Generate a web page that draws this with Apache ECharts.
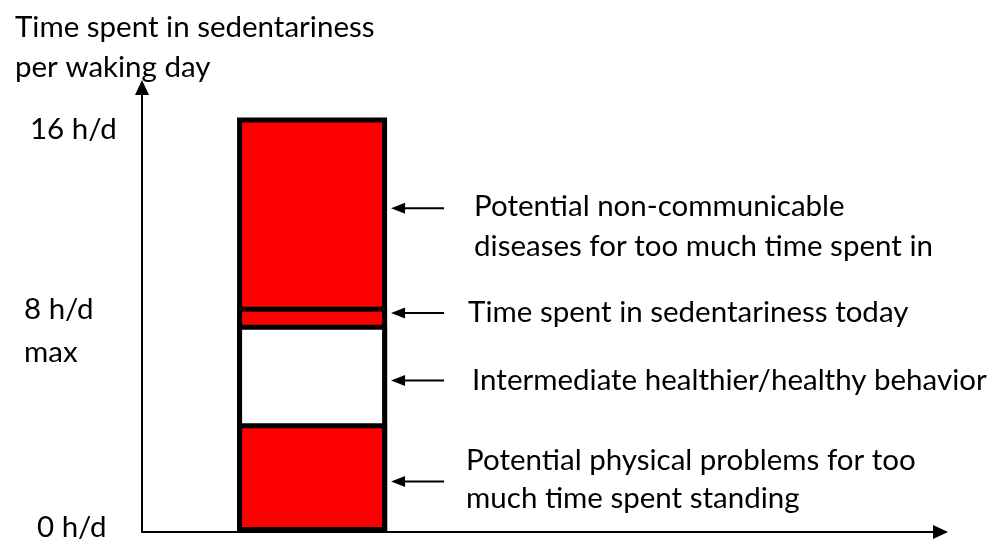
<!DOCTYPE html>
<html><head><meta charset="utf-8">
<script src="https://cdn.jsdelivr.net/npm/echarts@6/dist/echarts.min.js"></script>
<style>html,body{margin:0;padding:0;background:#fff}#c{width:995px;height:539px}</style>
</head><body><div id="c"></div>
<script>
// ---- data ----
const yTitleLines = ['Time spent in sedentariness', 'per waking day'];
const yTickValues = [0, 8, 16];
const yTickLabels = ['0 h/d', '8 h/d\nmax', '16 h/d'];
const barPosition = 21.3;               // where the single bar sits on the x range 0..100
const segmentNames = ['Standing', 'Healthy', 'Today', 'Sedentary'];
const segmentValues = [4.2, 3.8, 0.7, 7.3];   // hours, bottom to top
const annotationValues = [12.5, 8.45, 5.85, 1.95]; // hours where arrows point
const annotationTexts = [
  'Potential non-communicable\ndiseases for too much time spent in',
  'Time spent in sedentariness today',
  'Intermediate healthier/healthy behavior',
  'Potential physical problems for too\nmuch time spent standing'
];

// ---- styles / layout ----
const FONT = 'Lato, "Open Sans", sans-serif';
const FS = 29.5;
const segmentColors = ['#ff0000', '#ffffff', '#ff0000', '#ff0000'];
const annLayout = [
  {dx: 83, lh: 40, top: -22},
  {dx: 77, lh: 40, top: -21},
  {dx: 81, lh: 40, top: -20},
  {dx: 75, lh: 38, top: -40}
];

const chart = echarts.init(document.getElementById('c'), null, {renderer: 'canvas'});

// segment tops (running totals), drawn tallest first so lower segments overlay them
const tops = [];
segmentValues.reduce((acc, v, i) => { tops[i] = acc + v; return tops[i]; }, 0);
const order = segmentNames.map((_, i) => i).reverse();
const BAR_W = 150;
const barSeries = order.map((i, k) => ({
  name: segmentNames[i],
  type: 'bar',
  barWidth: BAR_W,
  barGap: '-100%',
  data: [[barPosition, tops[i]]],
  itemStyle: {color: segmentColors[i], borderColor: '#000', borderWidth: 5},
  silent: true,
  z: 3 + k * 0.01
}));

const annData = annotationValues.map((v, i) => [barPosition, v, i]);

const option = {
  backgroundColor: '#fff',
  animation: false,
  title: {
    text: yTitleLines.join('\n'),
    left: 15, top: 7, padding: 0,
    textStyle: {fontFamily: FONT, fontSize: FS, fontWeight: 'normal', color: '#000', lineHeight: 40}
  },
  grid: {left: 142, right: 54.5, top: 87.5, bottom: 7, containLabel: false, outerBoundsMode: 'none'},
  xAxis: {
    type: 'value', min: 0, max: 100,
    axisLine: {show: true, onZero: false, lineStyle: {color: '#000', width: 2},
      symbol: ['none', 'triangle'], symbolSize: [14, 15]},
    axisTick: {show: false}, axisLabel: {show: false}, splitLine: {show: false}
  },
  yAxis: {
    type: 'value', min: 0, max: 17.16,
    axisLine: {show: true, onZero: false, lineStyle: {color: '#000', width: 2},
      symbol: ['none', 'triangle'], symbolSize: [14, 15]},
    axisTick: {show: false}, splitLine: {show: false},
    axisLabel: {
      show: true,
      customValues: yTickValues,
      align: 'left', margin: 118,
      color: '#000', fontFamily: FONT, fontSize: FS,
      formatter: function (v) {
        const i = yTickValues.indexOf(v);
        if (i < 0) return '';
        const parts = yTickLabels[i].split('\n');
        if (v === 16) return '{sp16| }\n{a|' + parts[0] + '}';
        if (v === 8) return '{sp8| }\n{b|' + parts[0] + '}\n{b|' + parts[1] + '}';
        return '{c|' + parts[0] + '}\n{sp0| }';
      },
      rich: {
        a: {fontFamily: FONT, fontSize: FS, color: '#000', lineHeight: 30, padding: [0, 0, 0, 6]},
        b: {fontFamily: FONT, fontSize: FS, color: '#000', lineHeight: 43},
        c: {fontFamily: FONT, fontSize: FS, color: '#000', lineHeight: 30, padding: [0, 0, 0, 13]},
        sp16: {fontSize: 4, lineHeight: 23},
        sp8: {fontSize: 4, lineHeight: 12},
        sp0: {fontSize: 4, lineHeight: 10}
      }
    }
  },
  series: barSeries.concat([{
    type: 'custom',
    name: 'annotations',
    silent: true,
    z: 5,
    data: annData,
    encode: {x: 0, y: 1},
    renderItem: function (params, api) {
      const p = api.coord([api.value(0), api.value(1)]);
      const idx = api.value(2);
      const L = annLayout[idx];
      const tipX = p[0] + BAR_W / 2 + 4;
      const y = p[1];
      return {
        type: 'group',
        children: [
          {type: 'line', shape: {x1: tipX + 10, y1: y, x2: tipX + 53, y2: y},
            style: {stroke: '#000', lineWidth: 2}},
          {type: 'polygon', shape: {points: [[tipX, y], [tipX + 14, y - 5.5], [tipX + 14, y + 5.5]]},
            style: {fill: '#000'}},
          {type: 'text', x: tipX + L.dx, y: y + L.top,
            style: {text: annotationTexts[idx], fill: '#000', font: FS + 'px ' + FONT,
              lineHeight: L.lh, align: 'left', verticalAlign: 'top'}}
        ]
      };
    }
  }])
};
chart.setOption(option);
</script>
</body></html>
